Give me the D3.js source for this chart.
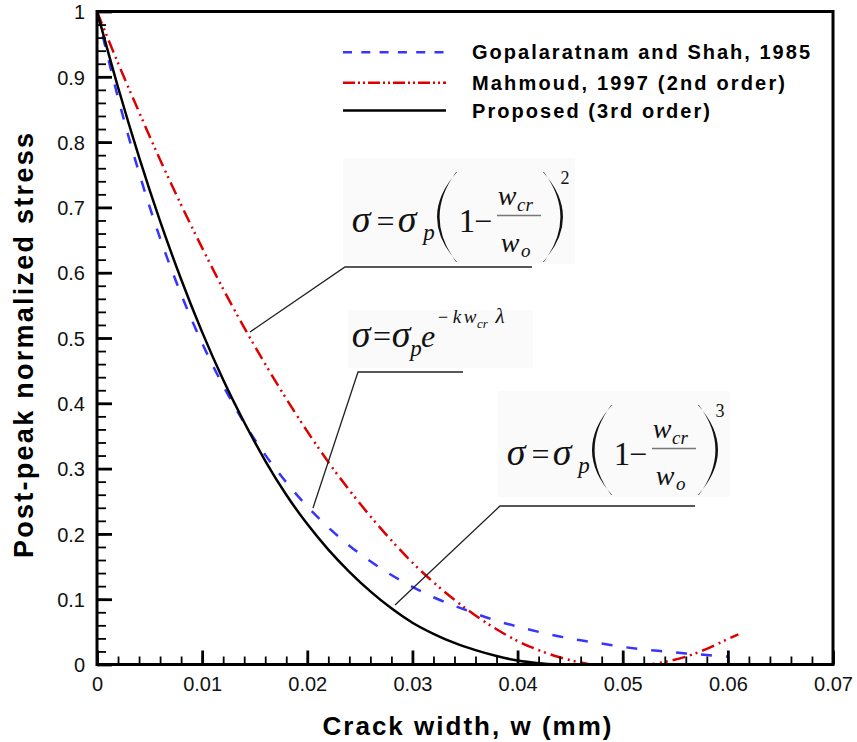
<!DOCTYPE html>
<html>
<head>
<meta charset="utf-8">
<script src="https://cdn.jsdelivr.net/npm/d3@7"></script>
<style>
  body { margin: 0; background: #fff; }
  svg { display: block; }
</style>
</head>
<body>
<svg id="chart" width="857" height="742"></svg>
<script>
// Crack width (mm) sampling for the curves
const crackWidth = [0, 0.002, 0.004, 0.006, 0.008, 0.010, 0.012, 0.014, 0.016, 0.018,
  0.020, 0.022, 0.024, 0.026, 0.028, 0.030, 0.032, 0.034, 0.036, 0.038,
  0.040, 0.042, 0.044, 0.046, 0.048, 0.050, 0.052, 0.054, 0.056, 0.058, 0.060];
const mahmoudWidth = [0, 0.002, 0.004, 0.006, 0.008, 0.010, 0.012, 0.014, 0.016, 0.018,
  0.020, 0.022, 0.024, 0.026, 0.028, 0.030, 0.032, 0.034, 0.036, 0.038,
  0.040, 0.042, 0.044, 0.046, 0.048, 0.050, 0.052, 0.054, 0.056, 0.058, 0.060, 0.061];
const proposedWidth = [0, 0.002, 0.004, 0.006, 0.008, 0.010, 0.012, 0.014, 0.016, 0.018,
  0.020, 0.022, 0.024, 0.026, 0.028, 0.030, 0.032, 0.034, 0.036, 0.038,
  0.040, 0.042, 0.044];

// Post-peak normalized stress for each model
const gopalaratnamShah = [1.000, 0.868, 0.753, 0.653, 0.567, 0.492, 0.427, 0.370, 0.321, 0.279,
  0.242, 0.210, 0.182, 0.158, 0.137, 0.119, 0.103, 0.090, 0.078, 0.067,
  0.058, 0.050, 0.043, 0.037, 0.032, 0.027, 0.023, 0.020, 0.017, 0.0145, 0.012];
const mahmoud = [1.000, 0.921, 0.846, 0.773, 0.704, 0.638, 0.575, 0.516, 0.460, 0.407,
  0.357, 0.310, 0.267, 0.227, 0.190, 0.156, 0.126, 0.099, 0.075, 0.054,
  0.036, 0.022, 0.011, 0.003, -0.002, -0.003, -0.001, 0.004, 0.012, 0.024, 0.039, 0.046];
const proposed = [1.000, 0.884, 0.777, 0.679, 0.590, 0.509, 0.436, 0.371, 0.312, 0.260,
  0.215, 0.176, 0.142, 0.112, 0.086, 0.064, 0.047, 0.033, 0.022, 0.013,
  0.006, 0.002, 0.000];

const seriesNames = ["Gopalaratnam and Shah, 1985", "Mahmoud, 1997 (2nd order)", "Proposed (3rd order)"];

// Axis ticks
const xTickValues = [0, 0.01, 0.02, 0.03, 0.04, 0.05, 0.06, 0.07];
const xTickLabels = ["0", "0.01", "0.02", "0.03", "0.04", "0.05", "0.06", "0.07"];
const yTickValues = [0, 0.1, 0.2, 0.3, 0.4, 0.5, 0.6, 0.7, 0.8, 0.9, 1];
const yTickLabels = ["0", "0.1", "0.2", "0.3", "0.4", "0.5", "0.6", "0.7", "0.8", "0.9", "1"];

const svg = d3.select("#chart");
const plotLeft = 97, plotRight = 833, plotTop = 11.5, plotBottom = 664.5;

const x = d3.scaleLinear().domain([0, 0.07]).range([plotLeft, plotRight]);
const y = d3.scaleLinear().domain([0, 1]).range([plotBottom, plotTop]);

const sans = "'Liberation Sans', Arial, Helvetica, sans-serif";
const serif = "'Liberation Serif', 'Times New Roman', serif";

svg.append("defs").append("clipPath").attr("id", "plotClip")
  .append("rect").attr("x", plotLeft).attr("y", plotTop)
  .attr("width", plotRight - plotLeft).attr("height", plotBottom - plotTop);

// ---- Formula boxes (drawn under everything)
const boxes = [
  {x: 343, y: 158, w: 232, h: 106},
  {x: 348, y: 310, w: 185, h: 58},
  {x: 498, y: 391, w: 232, h: 106}
];
svg.append("g").selectAll("rect").data(boxes).join("rect")
  .attr("x", d => d.x).attr("y", d => d.y).attr("width", d => d.w).attr("height", d => d.h)
  .attr("fill", "#fafafa");

// ---- Curves
const line = d3.line().x(d => x(d[0])).y(d => y(d[1])).curve(d3.curveMonotoneX);
const curves = [
  {w: crackWidth, v: gopalaratnamShah, color: "#3535ff", dash: "11,14"},
  {w: mahmoudWidth, v: mahmoud, color: "#dd0000", dash: "13,5,2,4,2,5"},
  {w: proposedWidth, v: proposed, color: "#000000", dash: null}
];
const gCurves = svg.append("g").attr("clip-path", "url(#plotClip)");
curves.forEach(c => {
  gCurves.append("path")
    .datum(c.w.map((w, i) => [w, c.v[i]]))
    .attr("d", line)
    .attr("fill", "none")
    .attr("stroke", c.color)
    .attr("stroke-width", 2.5)
    .attr("stroke-dasharray", c.dash);
});

// ---- Axes: major and minor ticks pointing inward
const xMinor = d3.range(0, 36).map(i => i * 0.002);
const yMinor = d3.range(0, 51).map(i => i * 0.02);

const gxMinor = svg.append("g").attr("transform", `translate(0,${plotBottom})`)
  .call(d3.axisBottom(x).tickValues(xMinor).tickSize(-8).tickFormat(""));
const gx = svg.append("g").attr("transform", `translate(0,${plotBottom})`)
  .call(d3.axisBottom(x).tickValues(xTickValues).tickSize(-14).tickPadding(12.5)
    .tickFormat((d, i) => xTickLabels[i]));
const gyMinor = svg.append("g").attr("transform", `translate(${plotLeft},0)`)
  .call(d3.axisLeft(y).tickValues(yMinor).tickSize(-9).tickFormat(""));
const gy = svg.append("g").attr("transform", `translate(${plotLeft},0)`)
  .call(d3.axisLeft(y).tickValues(yTickValues).tickSize(-15).tickPadding(12)
    .tickFormat((d, i) => yTickLabels[i]));

[gxMinor, gx, gyMinor, gy].forEach(g => g.select(".domain").remove());
[gxMinor, gyMinor].forEach(g => g.selectAll(".tick line").attr("stroke", "#000").attr("stroke-width", 1.8));
[gx, gy].forEach(g => g.selectAll(".tick line").attr("stroke", "#000").attr("stroke-width", 2.8));
[gx, gy].forEach(g => g.selectAll(".tick text")
  .attr("font-family", sans).attr("font-size", 20).attr("fill", "#111"));
gy.selectAll(".tick text").attr("dy", "0.36em");

// Frame
svg.append("rect").attr("x", plotLeft).attr("y", plotTop)
  .attr("width", plotRight - plotLeft).attr("height", plotBottom - plotTop)
  .attr("fill", "none").attr("stroke", "#000").attr("stroke-width", 3);

// Axis titles
svg.append("text").attr("x", 467).attr("y", 735)
  .attr("text-anchor", "middle").attr("font-family", sans).attr("font-weight", "bold")
  .attr("font-size", 26).attr("textLength", 289).attr("lengthAdjust", "spacing")
  .text("Crack width, w (mm)");
svg.append("text").attr("transform", "translate(33,345.5) rotate(-90)")
  .attr("text-anchor", "middle").attr("font-family", sans).attr("font-weight", "bold")
  .attr("font-size", 27).attr("textLength", 425).attr("lengthAdjust", "spacing")
  .text("Post-peak normalized stress");

// ---- Legend
const legendY = [52.3, 82.7, 110.5];
const legendTextLen = [338, 313, 238];
const legend = svg.append("g");
const legendDash = ["9,9.3", "12,3,2,3,2,3", null];
curves.forEach((c, i) => {
  legend.append("line").attr("x1", 343).attr("x2", 446)
    .attr("y1", legendY[i]).attr("y2", legendY[i])
    .attr("stroke", c.color).attr("stroke-width", 2.6)
    .attr("stroke-dasharray", legendDash[i]);
  legend.append("text").attr("x", 472).attr("y", legendY[i] + 7)
    .attr("font-family", sans).attr("font-weight", "bold").attr("font-size", 20)
    .attr("textLength", legendTextLen[i]).attr("lengthAdjust", "spacing")
    .text(seriesNames[i]);
});

// ---- Leader lines from formulas to curves
const leaders = [
  [[250, 332], [345, 267], [532, 267]],
  [[313, 508], [358, 372], [463, 372]],
  [[395, 605], [500, 506], [695, 506]]
];
svg.append("g").selectAll("path").data(leaders).join("path")
  .attr("d", d => d3.line()(d))
  .attr("fill", "none").attr("stroke", "#222").attr("stroke-width", 1.3);

// ---- Formulas
// glyph centred at cx (anchor middle) unless start=true
function tx(g, str, cx, py, size, italic, start) {
  return g.append("text").attr("x", cx).attr("y", py)
    .attr("text-anchor", start ? "start" : "middle")
    .attr("font-family", serif).attr("font-size", size)
    .attr("font-style", italic ? "italic" : "normal")
    .attr("fill", "#111").text(str);
}
function paren(g, x0, y0, y1, dir) {
  // tapered bracket: ends at x0, bulge toward dir (-1 left, +1 right)
  const ym = (y0 + y1) / 2;
  const outer = x0 + dir * 40, inner = x0 + dir * 34;
  const p = d3.path();
  p.moveTo(x0, y0);
  p.quadraticCurveTo(outer, ym, x0, y1);
  p.lineTo(x0 + dir * 0.8, y1);
  p.quadraticCurveTo(inner, ym, x0 + dir * 0.8, y0);
  p.closePath();
  g.append("path").attr("d", p.toString()).attr("fill", "#111");
}
function powerFormula(dx, dy, power) {
  const g = svg.append("g").attr("transform", `translate(${dx},${dy})`);
  tx(g, "σ", 361, 232, 38, true);
  tx(g, "=", 385.5, 232, 32, false);
  tx(g, "σ", 407, 232, 38, true);
  tx(g, "p", 429, 240, 23, true);
  paren(g, 457, 172, 262, -1);
  tx(g, "1", 467, 232, 33, false);
  tx(g, "−", 483, 232, 32, false);
  tx(g, "w", 507, 205, 28, true);
  tx(g, "cr", 517, 211, 19, true, true);
  g.append("line").attr("x1", 497).attr("x2", 541).attr("y1", 215.5).attr("y2", 215.5)
    .attr("stroke", "#777").attr("stroke-width", 1.3);
  tx(g, "w", 510, 252, 28, true);
  tx(g, "o", 521, 257, 19, true, true);
  paren(g, 543, 172, 262, 1);
  tx(g, power, 565, 184, 18, false);
}
powerFormula(0, 0, "2");
powerFormula(155, 233, "3");

// Exponential softening law
const ge = svg.append("g");
tx(ge, "σ", 361, 347, 38, true);
tx(ge, "=", 382, 347, 32, false);
tx(ge, "σ", 401, 347, 38, true);
tx(ge, "p", 416, 356, 23, true);
tx(ge, "e", 428, 347, 32, true);
tx(ge, "−", 443, 323, 18, false);
tx(ge, "k", 457, 323, 19, true);
tx(ge, "w", 470, 323, 19, true);
tx(ge, "cr", 477, 328, 13, true, true);
tx(ge, "λ", 500, 323, 21, true);
</script>
</body>
</html>
